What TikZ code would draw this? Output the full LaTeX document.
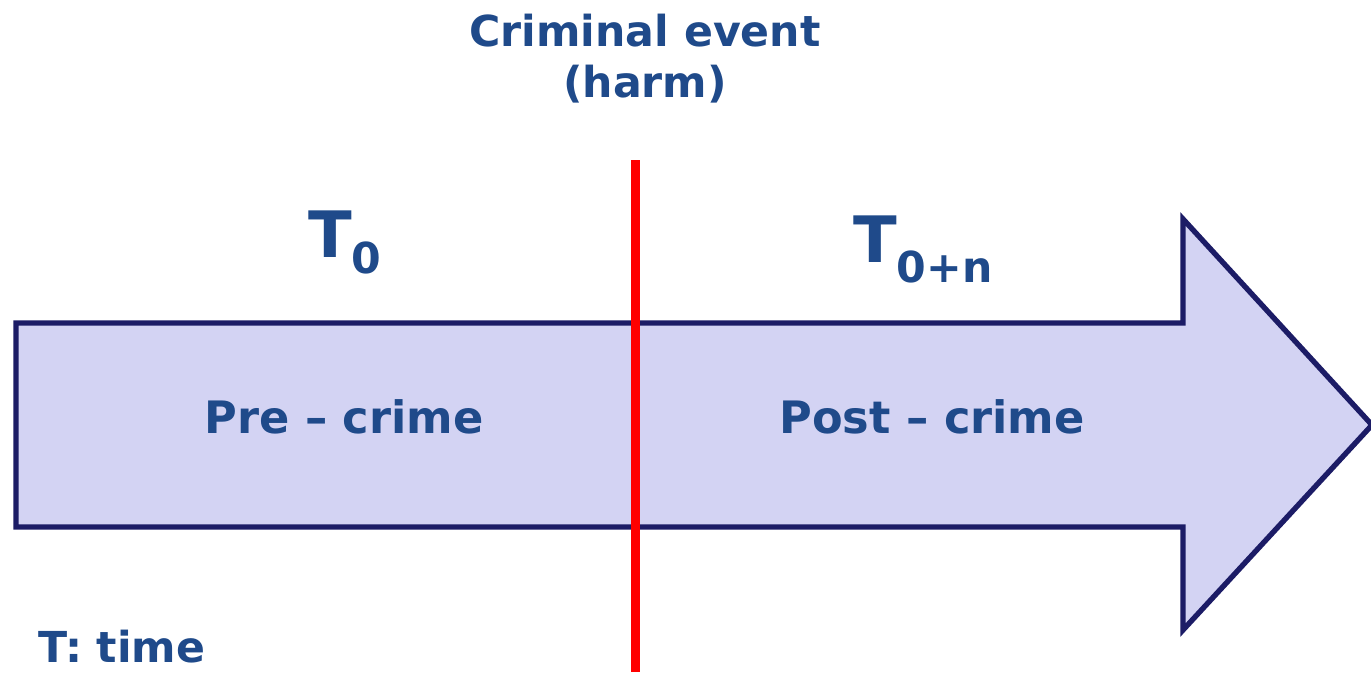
\documentclass[tikz,border=0pt]{standalone}
\usepackage{fontspec}
\setmainfont{DejaVu Sans}
\usetikzlibrary{positioning}
\definecolor{txtblue}{RGB}{31,74,138}
\definecolor{arrowfill}{RGB}{211,211,243}
\definecolor{arrowline}{RGB}{28,28,102}
\newcommand{\Tsub}[2][12pt]{T\raisebox{-#1}{\fontsize{32}{32}\selectfont #2}}
\begin{document}
\begin{tikzpicture}[x=0.75pt, y=-0.75pt, label/.style={font=\bfseries\fontsize{32}{38}\selectfont, text=txtblue, inner sep=0pt}, phase/.style={label, font=\bfseries\fontsize{33.5}{38}\selectfont}, bigT/.style={font=\bfseries\fontsize{48}{48}\selectfont, text=txtblue, inner sep=0pt}, timeline/.style={draw=arrowline, fill=arrowfill, line width=4pt, line join=miter}, event/.style={draw=red, line width=6.75pt}]
  \useasboundingbox (0,0) rectangle (1371,672);

  % time arrow
  \draw[timeline] (16,323) -- (1183,323) -- (1183,219) -- (1372,425) -- (1183,630) -- (1183,527) -- (16,527) -- cycle;

  % event line
  \coordinate (evtop) at (635,160);
  \coordinate (evbot) at (635,672);
  \draw[event] (evtop) -- (evbot);

  \node[label, anchor=base] (crime) at (645,46) {Criminal event};
  \node[label, anchor=base] (harm) at (645,97) {(harm)};

  \node[bigT, anchor=base west] (tzero) at (308,257) {\Tsub{0}};
  \node[bigT, anchor=base west] (tlater) at (853,262) {\Tsub[15pt]{0+n}};

  \node[phase, anchor=base] (pre) at (344,433) {Pre – crime};
  \node[phase, anchor=base] (post) at (932,433) {Post – crime};

  \node[label, anchor=base west] (legend) at (38,662) {T: time};
\end{tikzpicture}
\end{document}
